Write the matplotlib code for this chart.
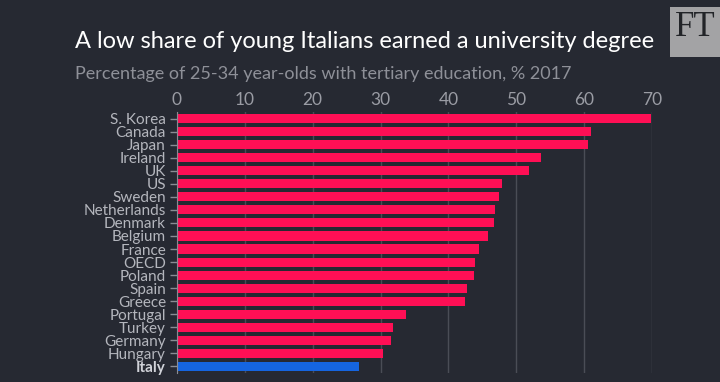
import numpy as np
import matplotlib.pyplot as plt
from matplotlib.patches import Rectangle

countries = ['S. Korea', 'Canada', 'Japan', 'Ireland', 'UK', 'US', 'Sweden',
             'Netherlands', 'Denmark', 'Belgium', 'France', 'OECD', 'Poland',
             'Spain', 'Greece', 'Portugal', 'Turkey', 'Germany', 'Hungary', 'Italy']
share = [69.9, 61.0, 60.6, 53.6, 51.8, 47.9, 47.5, 46.8, 46.7, 45.9, 44.5,
         43.9, 43.7, 42.8, 42.5, 33.7, 31.8, 31.5, 30.3, 26.8]
xticks = [0, 10, 20, 30, 40, 50, 60, 70]

bg = '#262932'
pink = '#ff0f55'
blue = '#1565e0'

plt.rcParams['font.family'] = ['Lato', 'DejaVu Sans']

fig = plt.figure(figsize=(7.2, 3.82), dpi=100, facecolor=bg)
ax = fig.add_axes([177/720, 1-373/382, 475/720, 261/382], facecolor=bg)

y = np.arange(len(countries))
colors = [blue if c == 'Italy' else pink for c in countries]
ax.barh(y, share, height=0.7, color=colors, zorder=3)

ax.set_xlim(0, 70)
ax.set_ylim(len(countries) - 0.5, -0.5)
ax.set_xticks(xticks)
ax.xaxis.tick_top()
ax.tick_params(axis='x', length=0, pad=3, labelsize=12.5, labelcolor='#9a9ca4')
ax.set_yticks(y)
ax.set_yticklabels(countries)
ax.tick_params(axis='y', length=5, width=1, color='#8a8c94', pad=3,
               labelsize=11, labelcolor='#b4b6bd')
for lbl in ax.get_yticklabels():
    if lbl.get_text() == 'Italy':
        lbl.set_fontweight('bold')
        lbl.set_color('#d0d2d8')

ax.grid(axis='x', color='#4a4d56', linewidth=1, zorder=0)
for s in ['top', 'right', 'bottom']:
    ax.spines[s].set_visible(False)
ax.spines['left'].set_color('#8a8c94')
ax.spines['left'].set_zorder(4)

fig.text(75/720, 1-48/382, 'A low share of young Italians earned a university degree',
         color='white', fontsize=17, va='baseline', ha='left')
fig.text(75/720, 1-79/382, 'Percentage of 25-34 year-olds with tertiary education, % 2017',
         color='#8e9098', fontsize=13, va='baseline', ha='left')

fig.patches.append(Rectangle((670/720, 1-57/382), 50/720, 50/382,
                             transform=fig.transFigure, facecolor='#a3a3a5',
                             edgecolor='none', figure=fig))
fig.text(695/720, 1-27/382, 'FT', color='#222428', fontsize=25, family='Liberation Serif',
         ha='center', va='center')

fig.savefig('out.png', dpi=100, facecolor=bg)
